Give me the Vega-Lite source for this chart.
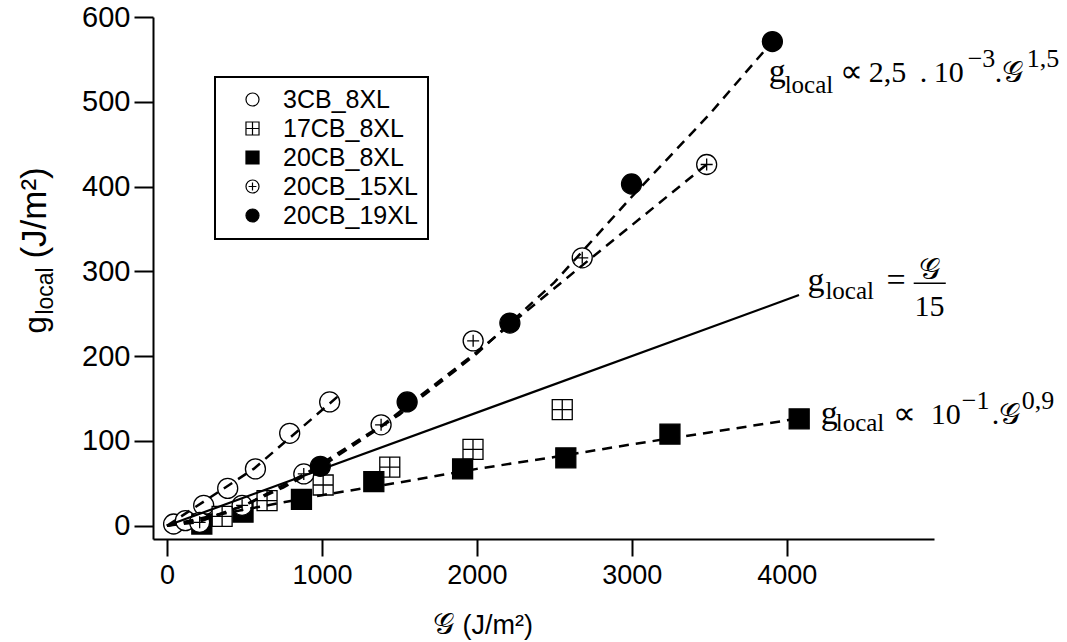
{
  "$schema": "https://vega.github.io/schema/vega-lite/v6.json",
  "width": 781,
  "height": 522,
  "autosize": {"type": "none"},
  "padding": {"left": 153, "top": 17, "right": 133, "bottom": 103},
  "background": "white",
  "config": {
    "view": {"stroke": null},
    "font": "Liberation Sans",
    "legend": {"strokeWidth": 2},
    "axisX": {"grid": false, "domainColor": "black", "domainWidth": 2, "tickColor": "black", "tickWidth": 2, "tickSize": 17,
              "labelFont": "Liberation Sans", "labelFontSize": 27, "labelColor": "black", "labelPadding": 6,
              "labelFlush": false, "labelOverlap": false},
    "axisY": {"grid": false, "domainColor": "black", "domainWidth": 2, "tickColor": "black", "tickWidth": 2, "tickSize": 19,
              "labelFont": "Liberation Sans", "labelFontSize": 29, "labelColor": "black", "labelPadding": 4,
              "labelFlush": false, "labelOverlap": false}
  },
  "datasets": {
    "pts": [
      {"sample": "3CB_8XL", "G": 43, "g": 2},
      {"sample": "3CB_8XL", "G": 119, "g": 6},
      {"sample": "3CB_8XL", "G": 237, "g": 24},
      {"sample": "3CB_8XL", "G": 392, "g": 44},
      {"sample": "3CB_8XL", "G": 571, "g": 67},
      {"sample": "3CB_8XL", "G": 792, "g": 109},
      {"sample": "3CB_8XL", "G": 1050, "g": 146},
      {"sample": "17CB_8XL", "G": 356, "g": 11},
      {"sample": "17CB_8XL", "G": 646, "g": 29.5},
      {"sample": "17CB_8XL", "G": 1008, "g": 48},
      {"sample": "17CB_8XL", "G": 1438, "g": 69},
      {"sample": "17CB_8XL", "G": 1975, "g": 90},
      {"sample": "17CB_8XL", "G": 2551, "g": 137},
      {"sample": "20CB_8XL", "G": 225, "g": 2},
      {"sample": "20CB_8XL", "G": 491, "g": 16},
      {"sample": "20CB_8XL", "G": 868, "g": 31},
      {"sample": "20CB_8XL", "G": 1335, "g": 52},
      {"sample": "20CB_8XL", "G": 1908, "g": 67},
      {"sample": "20CB_8XL", "G": 2574, "g": 80},
      {"sample": "20CB_8XL", "G": 3246, "g": 108},
      {"sample": "20CB_8XL", "G": 4080, "g": 126},
      {"sample": "20CB_15XL", "G": 211, "g": 4},
      {"sample": "20CB_15XL", "G": 485, "g": 24},
      {"sample": "20CB_15XL", "G": 883, "g": 61},
      {"sample": "20CB_15XL", "G": 1382, "g": 119},
      {"sample": "20CB_15XL", "G": 1976, "g": 218},
      {"sample": "20CB_15XL", "G": 2680, "g": 316},
      {"sample": "20CB_15XL", "G": 3483, "g": 426},
      {"sample": "20CB_19XL", "G": 990, "g": 70},
      {"sample": "20CB_19XL", "G": 1550, "g": 146},
      {"sample": "20CB_19XL", "G": 2213, "g": 239},
      {"sample": "20CB_19XL", "G": 2998, "g": 403},
      {"sample": "20CB_19XL", "G": 3907, "g": 571}
    ],
    "fits": [
      {"fit": "3CB_8XL", "G": 0, "g": 0},
      {"fit": "3CB_8XL", "G": 560, "g": 67},
      {"fit": "3CB_8XL", "G": 1100, "g": 152},
      {"fit": "20CB_8XL", "G": 0, "g": 0},
      {"fit": "20CB_8XL", "G": 250, "g": 10},
      {"fit": "20CB_8XL", "G": 500, "g": 19},
      {"fit": "20CB_8XL", "G": 1000, "g": 36},
      {"fit": "20CB_8XL", "G": 1500, "g": 51},
      {"fit": "20CB_8XL", "G": 2000, "g": 67},
      {"fit": "20CB_8XL", "G": 2500, "g": 81},
      {"fit": "20CB_8XL", "G": 3000, "g": 96},
      {"fit": "20CB_8XL", "G": 3500, "g": 110},
      {"fit": "20CB_8XL", "G": 4080, "g": 126.5},
      {"fit": "20CB_15XL", "G": 0, "g": 0},
      {"fit": "20CB_15XL", "G": 200, "g": 4},
      {"fit": "20CB_15XL", "G": 500, "g": 24},
      {"fit": "20CB_15XL", "G": 900, "g": 62},
      {"fit": "20CB_15XL", "G": 1400, "g": 120},
      {"fit": "20CB_15XL", "G": 2000, "g": 205},
      {"fit": "20CB_15XL", "G": 2700, "g": 310},
      {"fit": "20CB_15XL", "G": 3483, "g": 426},
      {"fit": "20CB_19XL", "G": 0, "g": 0},
      {"fit": "20CB_19XL", "G": 250, "g": 8},
      {"fit": "20CB_19XL", "G": 500, "g": 24},
      {"fit": "20CB_19XL", "G": 750, "g": 45},
      {"fit": "20CB_19XL", "G": 1000, "g": 70},
      {"fit": "20CB_19XL", "G": 1500, "g": 131},
      {"fit": "20CB_19XL", "G": 2000, "g": 203},
      {"fit": "20CB_19XL", "G": 2500, "g": 287},
      {"fit": "20CB_19XL", "G": 3000, "g": 388},
      {"fit": "20CB_19XL", "G": 3500, "g": 485},
      {"fit": "20CB_19XL", "G": 3907, "g": 571}
    ],
    "linear": [
      {"G": 0, "g": 0},
      {"G": 4079, "g": 272}
    ]
  },
  "layer": [
    {
      "data": {"name": "pts"},
      "mark": {"type": "point", "strokeWidth": 1.3, "opacity": 1, "size": 400},
      "encoding": {
        "x": {
          "field": "G", "type": "quantitative", "title": null,
          "scale": {"domain": [-90, 4950], "nice": false, "zero": false},
          "axis": {"values": [0, 1000, 2000, 3000, 4000], "format": "d", "title": null}
        },
        "y": {
          "field": "g", "type": "quantitative", "title": null,
          "scale": {"domain": [-15.7, 600], "nice": false, "zero": false},
          "axis": {"values": [0, 100, 200, 300, 400, 500, 600], "format": "d", "title": null}
        },
        "shape": {
          "field": "sample", "type": "nominal",
          "scale": {
            "domain": ["3CB_8XL", "17CB_8XL", "20CB_8XL", "20CB_15XL", "20CB_19XL"],
            "range": ["circle", "M-1,-1H1V1H-1ZM0,-1V1M-1,0H1", "square", "M-1,0A1,1,0,1,0,1,0A1,1,0,1,0,-1,0ZM-0.6,0H0.6M0,-0.6V0.6", "circle"]
          },
          "legend": {"title": null, "orient": "none", "legendX": 62, "legendY": 60, "strokeColor": "black", "padding": 10,
                     "symbolOffset": 15, "symbolSize": 170, "symbolStrokeWidth": 1.2,
                     "labelFont": "Liberation Sans", "labelFontSize": 25, "labelColor": "black", "labelOffset": 18, "rowPadding": 3}
        },
        "fill": {
          "field": "sample", "type": "nominal",
          "scale": {
            "domain": ["3CB_8XL", "17CB_8XL", "20CB_8XL", "20CB_15XL", "20CB_19XL"],
            "range": ["white", "white", "black", "white", "black"]
          },
          "legend": {"title": null, "orient": "none", "legendX": 62, "legendY": 60, "strokeColor": "black", "padding": 10,
                     "symbolOffset": 15, "symbolSize": 170, "symbolStrokeWidth": 1.2,
                     "labelFont": "Liberation Sans", "labelFontSize": 25, "labelColor": "black", "labelOffset": 18, "rowPadding": 3}
        },
        "stroke": {
          "field": "sample", "type": "nominal",
          "scale": {
            "domain": ["3CB_8XL", "17CB_8XL", "20CB_8XL", "20CB_15XL", "20CB_19XL"],
            "range": ["black", "black", "black", "black", "black"]
          },
          "legend": {"title": null, "orient": "none", "legendX": 62, "legendY": 60, "strokeColor": "black", "padding": 10,
                     "symbolOffset": 15, "symbolSize": 170, "symbolStrokeWidth": 1.2,
                     "labelFont": "Liberation Sans", "labelFontSize": 25, "labelColor": "black", "labelOffset": 18, "rowPadding": 3}
        }
      }
    },
    {
      "data": {"name": "fits"},
      "mark": {"type": "line", "color": "black", "strokeWidth": 2.5, "strokeDash": [10, 7]},
      "encoding": {
        "x": {"field": "G", "type": "quantitative", "title": null},
        "y": {"field": "g", "type": "quantitative", "title": null},
        "detail": {"field": "fit", "type": "nominal"}
      }
    },
    {
      "data": {"name": "linear"},
      "mark": {"type": "line", "color": "black", "strokeWidth": 2.2},
      "encoding": {
        "x": {"field": "G", "type": "quantitative", "title": null},
        "y": {"field": "g", "type": "quantitative", "title": null}
      }
    },
    {
      "data": {"values": [{}]},
      "mark": {"type": "text", "font": "Liberation Serif", "fontSize": 34, "align": "left", "baseline": "alphabetic", "color": "black"},
      "encoding": {"x": {"datum": 3883, "title": null}, "y": {"datum": 523, "title": null}, "text": {"value": "g"}}
    },
    {
      "data": {"values": [{}]},
      "mark": {"type": "text", "font": "Liberation Serif", "fontSize": 25, "align": "left", "baseline": "alphabetic", "color": "black", "dx": 16, "dy": 11},
      "encoding": {"x": {"datum": 3883, "title": null}, "y": {"datum": 523, "title": null}, "text": {"value": "local"}}
    },
    {
      "data": {"values": [{}]},
      "mark": {"type": "text", "font": "Liberation Serif", "fontSize": 32, "align": "left", "baseline": "alphabetic", "color": "black", "dx": 71},
      "encoding": {"x": {"datum": 3883, "title": null}, "y": {"datum": 523, "title": null}, "text": {"value": "∝"}}
    },
    {
      "data": {"values": [{}]},
      "mark": {"type": "text", "font": "Liberation Serif", "fontSize": 30, "align": "left", "baseline": "alphabetic", "color": "black", "dx": 100},
      "encoding": {"x": {"datum": 3883, "title": null}, "y": {"datum": 523, "title": null}, "text": {"value": "2,5"}}
    },
    {
      "data": {"values": [{}]},
      "mark": {"type": "text", "font": "Liberation Serif", "fontSize": 30, "align": "left", "baseline": "alphabetic", "color": "black", "dx": 151},
      "encoding": {"x": {"datum": 3883, "title": null}, "y": {"datum": 523, "title": null}, "text": {"value": "."}}
    },
    {
      "data": {"values": [{}]},
      "mark": {"type": "text", "font": "Liberation Serif", "fontSize": 30, "align": "left", "baseline": "alphabetic", "color": "black", "dx": 165},
      "encoding": {"x": {"datum": 3883, "title": null}, "y": {"datum": 523, "title": null}, "text": {"value": "10"}}
    },
    {
      "data": {"values": [{}]},
      "mark": {"type": "text", "font": "Liberation Serif", "fontSize": 26, "align": "left", "baseline": "alphabetic", "color": "black", "dx": 199, "dy": -15},
      "encoding": {"x": {"datum": 3883, "title": null}, "y": {"datum": 523, "title": null}, "text": {"value": "−3"}}
    },
    {
      "data": {"values": [{}]},
      "mark": {"type": "text", "font": "Liberation Serif", "fontSize": 30, "align": "left", "baseline": "alphabetic", "color": "black", "dx": 226},
      "encoding": {"x": {"datum": 3883, "title": null}, "y": {"datum": 523, "title": null}, "text": {"value": ".𝒢"}}
    },
    {
      "data": {"values": [{}]},
      "mark": {"type": "text", "font": "Liberation Serif", "fontSize": 26, "align": "left", "baseline": "alphabetic", "color": "black", "dx": 258, "dy": -15},
      "encoding": {"x": {"datum": 3883, "title": null}, "y": {"datum": 523, "title": null}, "text": {"value": "1,5"}}
    },
    {
      "data": {"values": [{}]},
      "mark": {"type": "text", "font": "Liberation Serif", "fontSize": 34, "align": "left", "baseline": "alphabetic", "color": "black"},
      "encoding": {"x": {"datum": 4133, "title": null}, "y": {"datum": 277.4, "title": null}, "text": {"value": "g"}}
    },
    {
      "data": {"values": [{}]},
      "mark": {"type": "text", "font": "Liberation Serif", "fontSize": 25, "align": "left", "baseline": "alphabetic", "color": "black", "dx": 18, "dy": 8},
      "encoding": {"x": {"datum": 4133, "title": null}, "y": {"datum": 277.4, "title": null}, "text": {"value": "local"}}
    },
    {
      "data": {"values": [{}]},
      "mark": {"type": "text", "font": "Liberation Serif", "fontSize": 34, "align": "left", "baseline": "alphabetic", "color": "black", "dx": 79},
      "encoding": {"x": {"datum": 4133, "title": null}, "y": {"datum": 277.4, "title": null}, "text": {"value": "="}}
    },
    {
      "data": {"values": [{}]},
      "mark": {"type": "text", "font": "Liberation Serif", "fontSize": 30, "align": "center", "baseline": "alphabetic", "color": "black", "dx": 122, "dy": -12},
      "encoding": {"x": {"datum": 4133, "title": null}, "y": {"datum": 277.4, "title": null}, "text": {"value": "𝒢"}}
    },
    {
      "data": {"values": [{}]},
      "mark": {"type": "text", "font": "Liberation Serif", "fontSize": 30, "align": "center", "baseline": "alphabetic", "color": "black", "dx": 122, "dy": 25},
      "encoding": {"x": {"datum": 4133, "title": null}, "y": {"datum": 277.4, "title": null}, "text": {"value": "15"}}
    },
    {
      "data": {"values": [{}]},
      "mark": {"type": "rule", "color": "black", "strokeWidth": 1.5},
      "encoding": {"x": {"datum": 4819, "title": null}, "x2": {"datum": 5026}, "y": {"datum": 286, "title": null}}
    },
    {
      "data": {"values": [{}]},
      "mark": {"type": "text", "font": "Liberation Serif", "fontSize": 34, "align": "left", "baseline": "alphabetic", "color": "black"},
      "encoding": {"x": {"datum": 4219, "title": null}, "y": {"datum": 120, "title": null}, "text": {"value": "g"}}
    },
    {
      "data": {"values": [{}]},
      "mark": {"type": "text", "font": "Liberation Serif", "fontSize": 25, "align": "left", "baseline": "alphabetic", "color": "black", "dx": 15, "dy": 7},
      "encoding": {"x": {"datum": 4219, "title": null}, "y": {"datum": 120, "title": null}, "text": {"value": "local"}}
    },
    {
      "data": {"values": [{}]},
      "mark": {"type": "text", "font": "Liberation Serif", "fontSize": 32, "align": "left", "baseline": "alphabetic", "color": "black", "dx": 72},
      "encoding": {"x": {"datum": 4219, "title": null}, "y": {"datum": 120, "title": null}, "text": {"value": "∝"}}
    },
    {
      "data": {"values": [{}]},
      "mark": {"type": "text", "font": "Liberation Serif", "fontSize": 30, "align": "left", "baseline": "alphabetic", "color": "black", "dx": 110},
      "encoding": {"x": {"datum": 4219, "title": null}, "y": {"datum": 120, "title": null}, "text": {"value": "10"}}
    },
    {
      "data": {"values": [{}]},
      "mark": {"type": "text", "font": "Liberation Serif", "fontSize": 26, "align": "left", "baseline": "alphabetic", "color": "black", "dx": 141, "dy": -15},
      "encoding": {"x": {"datum": 4219, "title": null}, "y": {"datum": 120, "title": null}, "text": {"value": "−1"}}
    },
    {
      "data": {"values": [{}]},
      "mark": {"type": "text", "font": "Liberation Serif", "fontSize": 30, "align": "left", "baseline": "alphabetic", "color": "black", "dx": 171},
      "encoding": {"x": {"datum": 4219, "title": null}, "y": {"datum": 120, "title": null}, "text": {"value": ".𝒢"}}
    },
    {
      "data": {"values": [{}]},
      "mark": {"type": "text", "font": "Liberation Serif", "fontSize": 26, "align": "left", "baseline": "alphabetic", "color": "black", "dx": 201, "dy": -15},
      "encoding": {"x": {"datum": 4219, "title": null}, "y": {"datum": 120, "title": null}, "text": {"value": "0,9"}}
    },
    {
      "data": {"values": [{}]},
      "mark": {"type": "text", "font": "Liberation Sans", "fontSize": 31, "align": "left", "baseline": "alphabetic", "color": "black", "angle": 270},
      "encoding": {"x": {"datum": -779, "title": null}, "y": {"datum": 226.6, "title": null}, "text": {"value": "g"}}
    },
    {
      "data": {"values": [{}]},
      "mark": {"type": "text", "font": "Liberation Sans", "fontSize": 23, "align": "left", "baseline": "alphabetic", "color": "black", "angle": 270, "dx": 19, "dy": 7},
      "encoding": {"x": {"datum": -779, "title": null}, "y": {"datum": 226.6, "title": null}, "text": {"value": "local"}}
    },
    {
      "data": {"values": [{}]},
      "mark": {"type": "text", "font": "Liberation Sans", "fontSize": 35, "align": "left", "baseline": "alphabetic", "color": "black", "angle": 270, "dx": 75},
      "encoding": {"x": {"datum": -779, "title": null}, "y": {"datum": 226.6, "title": null}, "text": {"value": "(J/m²)"}}
    },
    {
      "data": {"values": [{}]},
      "mark": {"type": "text", "font": "Liberation Serif", "fontSize": 30, "align": "right", "baseline": "alphabetic", "color": "black", "dx": -4},
      "encoding": {"x": {"datum": 1881, "title": null}, "y": {"datum": -127.5, "title": null}, "text": {"value": "𝒢"}}
    },
    {
      "data": {"values": [{}]},
      "mark": {"type": "text", "font": "Liberation Sans", "fontSize": 27, "align": "left", "baseline": "alphabetic", "color": "black", "dx": 4},
      "encoding": {"x": {"datum": 1881, "title": null}, "y": {"datum": -127.5, "title": null}, "text": {"value": "(J/m²)"}}
    }
  ]
}
